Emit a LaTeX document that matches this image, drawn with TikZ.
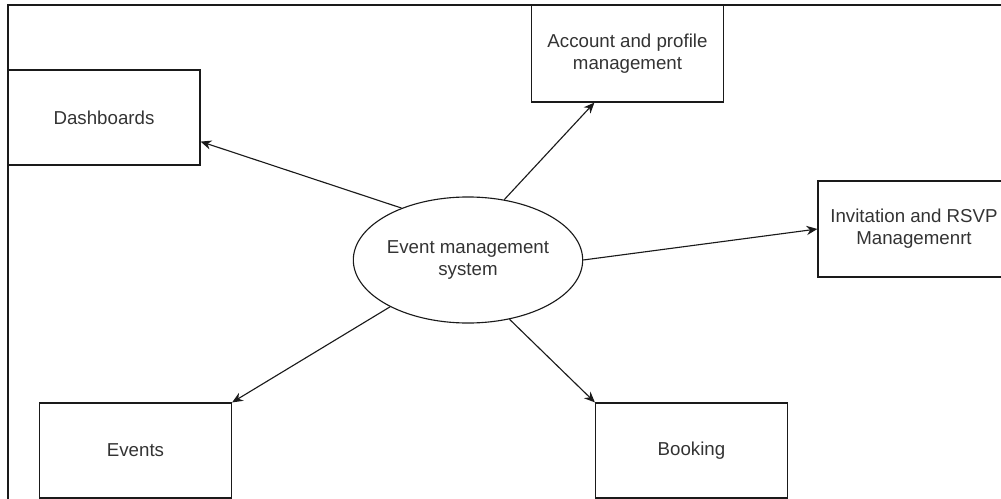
\documentclass[tikz,border=0pt]{standalone}
\usepackage{fontspec}
\setmainfont{Liberation Sans}
\usetikzlibrary{arrows.meta,shapes.geometric}
\definecolor{ink}{HTML}{1A1A1A}
\definecolor{txt}{HTML}{333333}

\begin{document}
\begin{tikzpicture}[x=0.025cm, y=-0.025cm, line width=0.8pt, draw=ink,
    font=\fontsize{13.3}{15.8}\selectfont,
    box/.style={draw=ink, text=txt, align=center, inner sep=0pt, minimum width=4.8cm, minimum height=2.4cm},
    hub/.style={ellipse, draw=ink, text=txt, align=center, inner sep=0pt, minimum width=5.55cm, minimum height=3.15cm},
    link/.style={-{Stealth[length=2.7mm, width=2.3mm]}, draw=ink}]
    \useasboundingbox (0,0) rectangle (1001,499);
    \clip (0,0) rectangle (1001,499);
    \draw[ink] (8,520) -- (8,5) -- (1020,5);
    \node[hub] (ems) at (468,260) {Event management\\system};
    \node[box, minimum height=2.375cm] (dash) at (104,117.5) {Dashboards};
    \node[box, minimum height=2.425cm] (acct) at (627.5,53.5) {Account and profile\\management};
    \node[box] (rsvp) at (914,229) {Invitation and RSVP\\Managemenrt};
    \node[box, minimum height=2.375cm] (evts) at (135.5,450.5) {Events};
    \node[box, minimum height=2.375cm] (book) at (691.5,450.5) {Booking};
    \draw[link] (ems.142.3) -- (dash.-14.7);
    \draw[link] (ems.59.6) -- (acct.236.7);
    \draw[link] (ems.-0.5) -- (rsvp.west);
    \draw[link] (ems.211.6) -- (evts.north east);
    \draw[link] (ems.-55) -- (book.north west);
  \end{tikzpicture}
\end{document}
